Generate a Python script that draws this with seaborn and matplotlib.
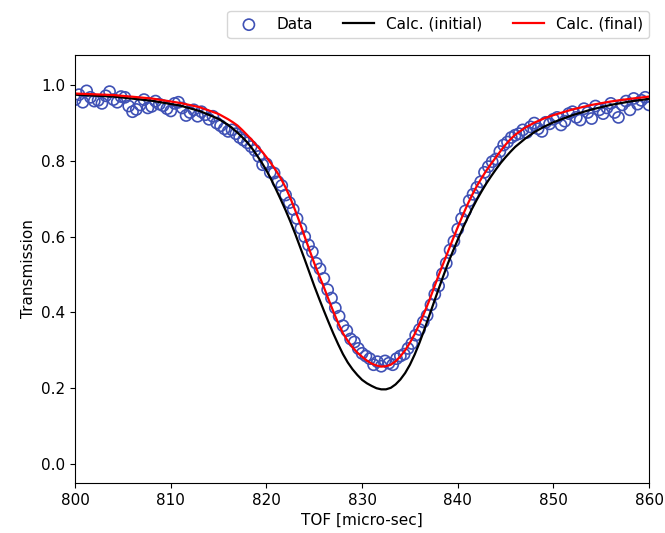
import numpy as np
import pandas as pd
import seaborn as sns
import matplotlib
matplotlib.use("Agg")
import matplotlib.pyplot as plt

plt.rcParams["font.size"] = 11

tof = [800.0, 800.4, 800.8, 801.2, 801.6, 802.0, 802.4, 802.8, 803.2, 803.6,
       804.0, 804.4, 804.8, 805.2, 805.6, 806.0, 806.4, 806.8, 807.2, 807.6,
       808.0, 808.4, 808.8, 809.2, 809.6, 810.0, 810.4, 810.8, 811.2, 811.6,
       812.0, 812.4, 812.8, 813.2, 813.6, 814.0, 814.4, 814.8, 815.2, 815.6,
       816.0, 816.4, 816.8, 817.2, 817.6, 818.0, 818.4, 818.8, 819.2, 819.6,
       820.0, 820.4, 820.8, 821.2, 821.6, 822.0, 822.4, 822.8, 823.2, 823.6,
       824.0, 824.4, 824.8, 825.2, 825.6, 826.0, 826.4, 826.8, 827.2, 827.6,
       828.0, 828.4, 828.8, 829.2, 829.6, 830.0, 830.4, 830.8, 831.2, 831.6,
       832.0, 832.4, 832.8, 833.2, 833.6, 834.0, 834.4, 834.8, 835.2, 835.6,
       836.0, 836.4, 836.8, 837.2, 837.6, 838.0, 838.4, 838.8, 839.2, 839.6,
       840.0, 840.4, 840.8, 841.2, 841.6, 842.0, 842.4, 842.8, 843.2, 843.6,
       844.0, 844.4, 844.8, 845.2, 845.6, 846.0, 846.4, 846.8, 847.2, 847.6,
       848.0, 848.4, 848.8, 849.2, 849.6, 850.0, 850.4, 850.8, 851.2, 851.6,
       852.0, 852.4, 852.8, 853.2, 853.6, 854.0, 854.4, 854.8, 855.2, 855.6,
       856.0, 856.4, 856.8, 857.2, 857.6, 858.0, 858.4, 858.8, 859.2, 859.6,
       860.0]
trans = [0.962, 0.975, 0.955, 0.985, 0.968, 0.958, 0.960, 0.952, 0.972, 0.983,
         0.962, 0.955, 0.970, 0.968, 0.945, 0.930, 0.936, 0.948, 0.962, 0.940,
         0.944, 0.958, 0.950, 0.946, 0.938, 0.932, 0.952, 0.955, 0.940, 0.920,
         0.928, 0.935, 0.918, 0.930, 0.922, 0.910, 0.918, 0.900, 0.893, 0.885,
         0.878, 0.882, 0.872, 0.862, 0.855, 0.848, 0.838, 0.828, 0.812, 0.790,
         0.792, 0.770, 0.768, 0.745, 0.735, 0.710, 0.690, 0.672, 0.648, 0.622,
         0.600, 0.578, 0.560, 0.530, 0.515, 0.490, 0.460, 0.438, 0.412, 0.390,
         0.365, 0.352, 0.330, 0.322, 0.305, 0.292, 0.285, 0.278, 0.262, 0.270,
         0.258, 0.272, 0.266, 0.262, 0.278, 0.285, 0.290, 0.305, 0.318, 0.340,
         0.355, 0.375, 0.392, 0.420, 0.448, 0.470, 0.502, 0.530, 0.565, 0.588,
         0.620, 0.648, 0.668, 0.695, 0.712, 0.730, 0.745, 0.770, 0.785, 0.798,
         0.805, 0.825, 0.842, 0.850, 0.862, 0.868, 0.872, 0.882, 0.875, 0.890,
         0.900, 0.885, 0.878, 0.902, 0.898, 0.910, 0.915, 0.895, 0.905, 0.925,
         0.930, 0.915, 0.908, 0.938, 0.928, 0.912, 0.945, 0.935, 0.925, 0.940,
         0.952, 0.928, 0.915, 0.948, 0.958, 0.935, 0.965, 0.950, 0.960, 0.968,
         0.948]

# calculated curves
calc_tof = [800, 804, 808, 811, 813, 815, 816,
            816.5, 817, 817.5, 818, 818.5, 819, 819.5, 820, 820.5, 821,
            821.5, 822, 822.5, 823, 823.5, 824, 824.5, 825, 825.5, 826,
            826.5, 827, 827.5, 828, 828.5, 829, 829.5, 830, 830.5, 831,
            831.5, 832, 832.5, 833, 833.5, 834, 834.5, 835, 835.5, 836,
            836.5, 837, 837.5, 838, 838.5, 839, 839.5, 840, 840.5, 841,
            841.5, 842, 842.5, 843, 843.5, 844, 844.5, 845, 845.5, 846,
            847, 848, 849, 850, 852, 854, 856, 858, 860]
calc_initial = [0.975, 0.970, 0.959, 0.946, 0.932, 0.911, 0.895,
                0.885, 0.874, 0.862, 0.849, 0.833, 0.815, 0.796, 0.775, 0.751, 0.725,
                0.698, 0.670, 0.640, 0.608, 0.574, 0.540, 0.505, 0.470, 0.437, 0.405,
                0.374, 0.344, 0.316, 0.290, 0.268, 0.250, 0.235, 0.222, 0.213, 0.206,
                0.200, 0.197, 0.197, 0.201, 0.210, 0.223, 0.240, 0.262, 0.289, 0.320,
                0.354, 0.390, 0.426, 0.462, 0.497, 0.531, 0.562, 0.592, 0.621, 0.648,
                0.674, 0.698, 0.720, 0.741, 0.760, 0.778, 0.795, 0.810, 0.824, 0.837,
                0.858, 0.876, 0.890, 0.902, 0.921, 0.936, 0.948, 0.957, 0.964]
calc_final = [0.978, 0.974, 0.965, 0.953, 0.942, 0.924, 0.910,
              0.902, 0.893, 0.881, 0.868, 0.855, 0.840, 0.826, 0.810, 0.793, 0.775,
              0.754, 0.730, 0.702, 0.670, 0.636, 0.600, 0.565, 0.530, 0.498, 0.467,
              0.434, 0.402, 0.372, 0.345, 0.325, 0.308, 0.294, 0.283, 0.273, 0.265,
              0.260, 0.257, 0.258, 0.262, 0.271, 0.284, 0.300, 0.320, 0.343, 0.370,
              0.399, 0.430, 0.464, 0.498, 0.530, 0.562, 0.594, 0.625, 0.655, 0.684,
              0.710, 0.734, 0.755, 0.775, 0.793, 0.810, 0.827, 0.843, 0.857, 0.869,
              0.887, 0.901, 0.912, 0.921, 0.936, 0.948, 0.957, 0.964, 0.970]

data = pd.DataFrame({"tof": tof, "trans": trans})
calc = pd.DataFrame({"tof": calc_tof, "initial": calc_initial, "final": calc_final})

fig, ax = plt.subplots(figsize=(6.65, 5.33), dpi=100)
fig.subplots_adjust(left=0.113, right=0.976, bottom=0.094, top=0.897)

sns.scatterplot(data=data, x="tof", y="trans", ax=ax, marker="o", s=64,
                facecolor="none", edgecolor="#3f51b5", linewidth=1.2, label="Data")
sns.lineplot(data=calc, x="tof", y="initial", ax=ax, color="black", linewidth=1.6,
             label="Calc. (initial)")
sns.lineplot(data=calc, x="tof", y="final", ax=ax, color="red", linewidth=1.6,
             label="Calc. (final)")

ax.set_xlim(800, 860)
ax.set_ylim(-0.05, 1.08)
ax.set_xlabel("TOF [micro-sec]")
ax.set_ylabel("Transmission")
ax.legend(loc="lower right", bbox_to_anchor=(1.0, 1.04), ncol=3, borderaxespad=0)

fig.savefig("out.png", dpi=100)
